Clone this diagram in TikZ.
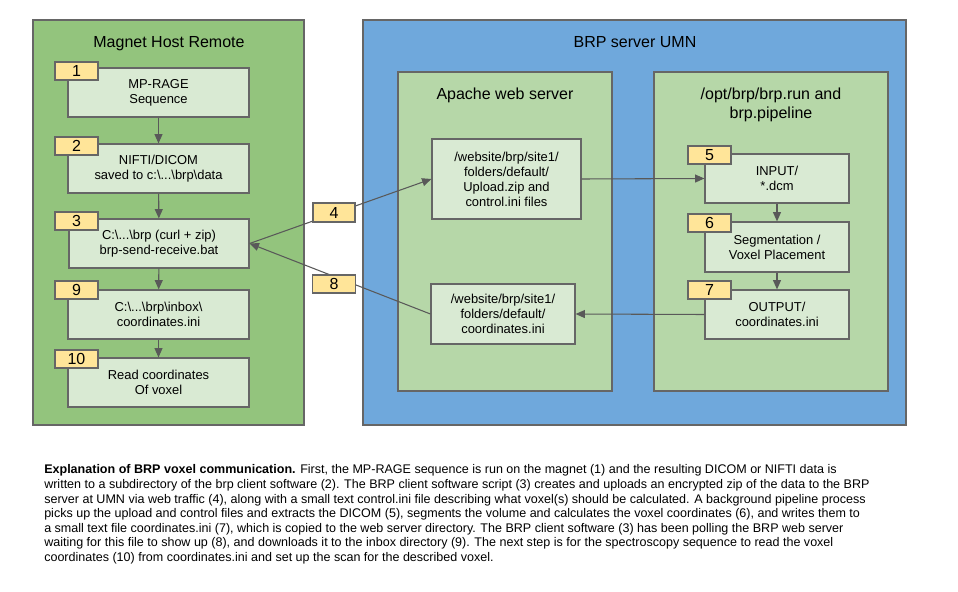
\documentclass[tikz,border=0pt]{standalone}
\usepackage{fontspec}
\setmainfont{Liberation Sans}
\usetikzlibrary{arrows.meta}
\definecolor{mgreen}{HTML}{93C47D}
\definecolor{mblue}{HTML}{6FA8DC}
\definecolor{igreen}{HTML}{B6D7A8}
\definecolor{boxfill}{HTML}{D9EAD3}
\definecolor{tabfill}{HTML}{FFE599}
\definecolor{bordergray}{HTML}{666666}
\definecolor{arrowgray}{HTML}{595959}
\newcommand\mybs{\textbackslash}
\begin{document}
\begin{tikzpicture}[x=0.75pt,y=-0.75pt,
  wh/.style 2 args={minimum width=#1*0.75pt, minimum height=#2*0.75pt},
  container/.style={draw=bordergray, line width=1pt, fill=#1, inner sep=0pt},
  box/.style={draw=bordergray, line width=0.9pt, fill=boxfill, inner sep=0pt, align=center,
    font=\fontsize{9.7pt}{11.25pt}\selectfont,
    execute at begin node={\rule{0pt}{12.2pt}}},
  tab/.style={draw=bordergray, line width=0.9pt, fill=tabfill, inner sep=0pt,
    font=\fontsize{12pt}{14pt}\selectfont, wh={43}{18}},
  title/.style={align=center, inner sep=0pt, font=\fontsize{12pt}{14.25pt}\selectfont},
  conn/.style={draw=arrowgray, line width=0.8pt},
  arr/.style={conn, -{Triangle[length=7pt,width=6pt]}}]
\useasboundingbox (0,0) rectangle (958,592);
\fill[white] (0,0) rectangle (958,592);

% containers
\node[container=mgreen, wh={271}{405}] (magnet) at (168.5,222.5) {};
\node[title] (magnettitle) at (169,43.5) {Magnet Host Remote};
\node[container=mblue, wh={543}{405}] (brp) at (634.5,222.5) {};
\node[title] (brptitle) at (635,42.5) {BRP server UMN};
\node[container=igreen, wh={214}{319}] (apache) at (505,231.5) {};
\node[title] (apachetitle) at (505,95.5) {Apache web server};
\node[container=igreen, wh={234}{319}] (opt) at (771,231.5) {};
\node[title] (opttitle) at (771,105) {/opt/brp/brp.run and\\brp.pipeline};

% magnet boxes
\node[box, wh={181}{49}] (b1) at (158.5,92.5) {MP-RAGE\\Sequence};
\node[box, wh={181}{49}] (b2) at (158.5,168.5) {NIFTI/DICOM\\saved to c:\mybs...\mybs brp\mybs data};
\node[box, wh={180}{49}] (b3) at (159,243.5) {C:\mybs...\mybs brp (curl + zip)\\brp-send-receive.bat};
\node[box, wh={181}{49}] (b9) at (158.5,314.5) {C:\mybs...\mybs brp\mybs inbox\mybs\\coordinates.ini};
\node[box, wh={181}{49}] (b10) at (158.5,382.5) {Read coordinates\\Of voxel};

% web boxes
\node[box, wh={149}{80}] (up) at (506.5,179) {/website/brp/site1/\\folders/default/\\Upload.zip and\\control.ini files};
\node[box, wh={144}{60}] (cw) at (503,314) {/website/brp/site1/\\folders/default/\\coordinates.ini};

% pipeline boxes
\node[box, wh={144}{49}] (b5) at (777,178.5) {INPUT/\\{*}.dcm};
\node[box, wh={144}{50}] (b6) at (777,247) {Segmentation /\\Voxel Placement};
\node[box, wh={144}{49}] (b7) at (777,314.5) {OUTPUT/\\coordinates.ini};

% connectors
\draw[arr] (b1) -- (b2);
\draw[arr] (b2) -- (b3);
\draw[arr] (b3) -- (b9);
\draw[arr] (b9) -- (b10);
\draw[arr] (b5) -- (b6);
\draw[arr] (b6) -- (b7);
\draw[arr] (up.east) -- (b5.west);
\draw[arr] (b7.west) -- (cw.east);
\draw[arr] (b3.east) -- (up.west);
\draw[arr] (cw.west) -- (b3.east);

% tabs
\node[tab] (t1) at (76.5,71) {1};
\node[tab] (t2) at (76.5,146) {2};
\node[tab] (t3) at (76.5,221) {3};
\node[tab] (t9) at (76.5,290) {9};
\node[tab] (t10) at (76.5,359) {10};
\node[tab, wh={42}{19}] (t4) at (334,212.5) {4};
\node[tab] (t8) at (334,284) {8};
\node[tab] (t5) at (709.5,155) {5};
\node[tab] (t6) at (709.5,223) {6};
\node[tab] (t7) at (709.5,290) {7};

% caption
\node[anchor=north west, inner sep=0pt, align=left,
  font=\fontsize{9.4pt}{10.95pt}\selectfont] (caption) at (44,464.5) {%
\textbf{Explanation of BRP voxel communication.} First, the MP-RAGE sequence is run on the magnet (1) and the resulting DICOM or NIFTI data is\\
written to a subdirectory of the brp client software (2). The BRP client software script (3) creates and uploads an encrypted zip of the data to the BRP\\
server at UMN via web traffic (4), along with a small text control.ini file describing what voxel(s) should be calculated. A background pipeline process\\
picks up the upload and control files and extracts the DICOM (5), segments the volume and calculates the voxel coordinates (6), and writes them to\\
a small text file coordinates.ini (7), which is copied to the web server directory. The BRP client software (3) has been polling the BRP web server\\
waiting for this file to show up (8), and downloads it to the inbox directory (9). The next step is for the spectroscopy sequence to read the voxel\\
coordinates (10) from coordinates.ini and set up the scan for the described voxel.};
\end{tikzpicture}
\end{document}
